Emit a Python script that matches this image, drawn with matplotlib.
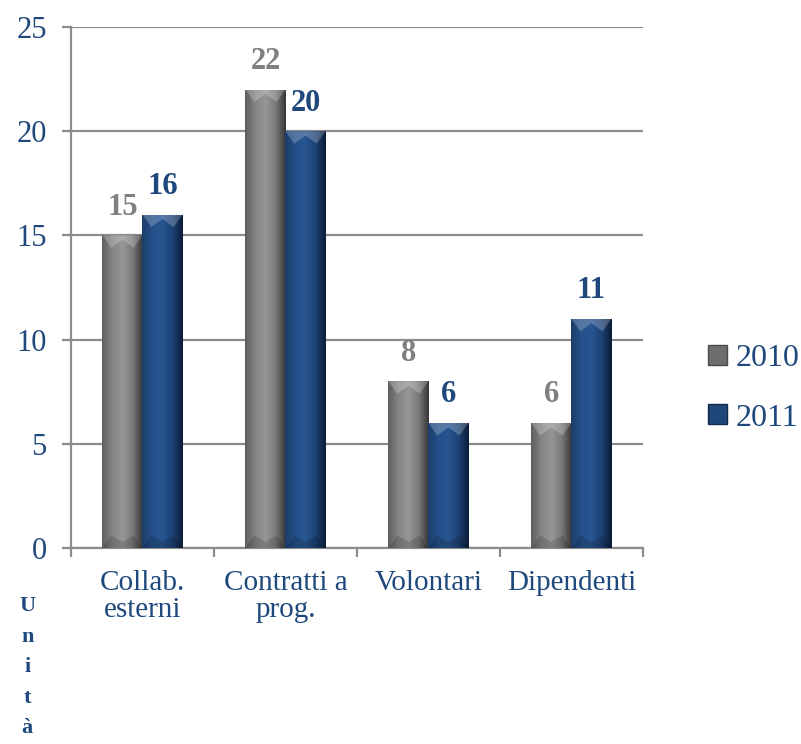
import matplotlib
matplotlib.use("Agg")
import matplotlib.pyplot as plt
import numpy as np
from matplotlib.colors import LinearSegmentedColormap
from matplotlib.patches import Patch, Polygon

categories = ["Collab.\nesterni", "Contratti a\nprog.", "Volontari", "Dipendenti"]
series_names = ["2010", "2011"]
values_2010 = [15, 22, 8, 6]
values_2011 = [16, 20, 6, 11]

BLUE_TEXT = "#1f497d"
GRAY_TEXT = "#7f7f7f"
GRID = "#8c8c8c"

plt.rcParams["font.family"] = ["Liberation Serif", "DejaVu Serif"]

fig = plt.figure(figsize=(8.01, 7.44), dpi=100)
ax = fig.add_axes([0.0886, 0.2634, 0.714, 0.7003])

x = np.arange(len(categories))
w = 0.28

gray_cmap = LinearSegmentedColormap.from_list(
    "g", ["#5e5e5e", "#848484", "#969696", "#7a7a7a", "#353535"])
blue_cmap = LinearSegmentedColormap.from_list(
    "b", ["#1b3d69", "#25508a", "#285590", "#1d4275", "#0a1c36"])


def fancy_bars(bars, cmap):
    # horizontal gradient + light top bevel + dark bottom bevel
    grad = np.linspace(0, 1, 256).reshape(1, -1)
    for b in bars:
        bx, by = b.get_x(), b.get_y()
        bw, bh = b.get_width(), b.get_height()
        im = ax.imshow(grad, cmap=cmap, aspect="auto",
                       extent=[bx, bx + bw, by, by + bh], zorder=3)
        im.set_clip_path(b)
        top = by + bh
        d = 0.6
        ins = bw * 0.22
        ax.add_patch(Polygon([(bx, top), (bx + bw, top), (bx + bw - ins, top - d),
                              (bx + bw / 2, top - d * 0.35), (bx + ins, top - d)],
                             closed=True, facecolor="white", alpha=0.22,
                             edgecolor="none", zorder=4))
        ax.add_patch(Polygon([(bx, by), (bx + bw, by), (bx + bw - ins, by + d),
                              (bx + bw / 2, by + d * 0.5), (bx + ins, by + d)],
                             closed=True, facecolor="black", alpha=0.15,
                             edgecolor="none", zorder=4))


bars10 = ax.bar(x - w / 2, values_2010, w, color="#7f7f7f", zorder=2)
bars11 = ax.bar(x + w / 2, values_2011, w, color="#244f86", zorder=2)
fancy_bars(bars10, gray_cmap)
fancy_bars(bars11, blue_cmap)

for b, v in zip(bars10, values_2010):
    ax.text(b.get_x() + b.get_width() / 2, v + 0.65, str(v), ha="center", va="bottom",
            fontsize=22, fontweight="bold", color=GRAY_TEXT, zorder=5)
for b, v in zip(bars11, values_2011):
    ax.text(b.get_x() + b.get_width() / 2, v + 0.65, str(v), ha="center", va="bottom",
            fontsize=22, fontweight="bold", color=BLUE_TEXT, zorder=5)

ax.set_xlim(-0.5, len(categories) - 0.5)
ax.set_ylim(0, 25)
ax.set_yticks([0, 5, 10, 15, 20, 25])
ax.yaxis.grid(True, color=GRID, linewidth=1.6, zorder=0)
ax.set_axisbelow(True)

ax.set_xticks(x)
ax.set_xticklabels(categories, fontsize=21, color=BLUE_TEXT, linespacing=1.05)
ax.set_xticks(np.arange(len(categories) + 1) - 0.5, minor=True)
ax.tick_params(axis="x", which="major", length=0, pad=16)
ax.tick_params(axis="x", which="minor", length=6.5, width=1.6, color=GRID)
ax.tick_params(axis="y", length=6.5, width=1.6, color=GRID, labelsize=22,
               labelcolor=BLUE_TEXT, pad=11)

for s in ["top", "right"]:
    ax.spines[s].set_visible(False)
for s in ["left", "bottom"]:
    ax.spines[s].set_color(GRID)
    ax.spines[s].set_linewidth(1.6)

handles = [Patch(facecolor="#6e6e6e", edgecolor="#4a4a4a"),
           Patch(facecolor="#1f477a", edgecolor="#102a4c")]
leg = fig.legend(handles, series_names, loc="center left", bbox_to_anchor=(0.884, 0.478),
                 frameon=False, fontsize=23, handlelength=0.6, handleheight=0.6,
                 handletextpad=0.25, labelspacing=0.95, borderaxespad=0, borderpad=0)
for t in leg.get_texts():
    t.set_color(BLUE_TEXT)

fig.text(0.034, 0.103, "U\nn\ni\nt\nà", ha="center", va="center", fontsize=16,
         fontweight="bold", color=BLUE_TEXT, linespacing=1.7)

fig.savefig("out.png", dpi=100)
